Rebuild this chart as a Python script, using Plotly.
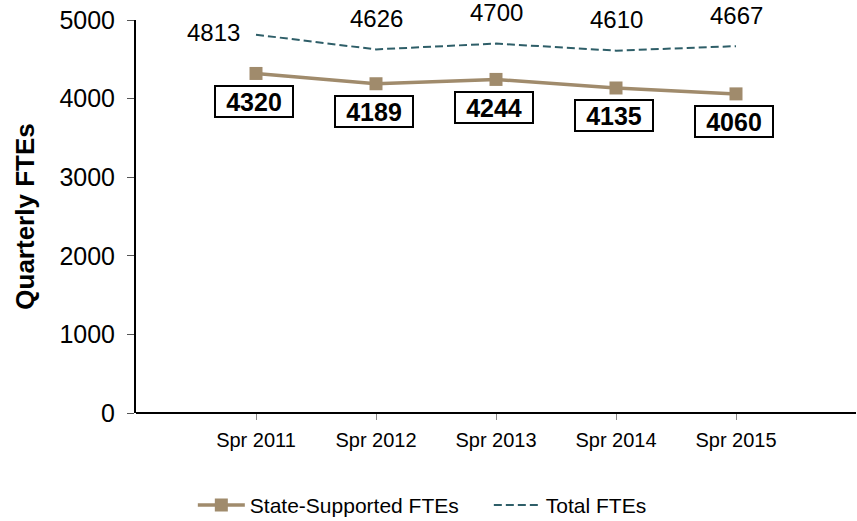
import plotly.graph_objects as go

# datos
terms = ["Spr 2011", "Spr 2012", "Spr 2013", "Spr 2014", "Spr 2015"]
state_ftes = [4320, 4189, 4244, 4135, 4060]
total_ftes = [4813, 4626, 4700, 4610, 4667]

fig = go.Figure()

fig.add_trace(go.Scatter(
    x=terms, y=state_ftes,
    mode="lines+markers",
    line=dict(color="#A08B6C", width=3.5),
    marker=dict(symbol="square", size=13, color="#A08B6C"),
    name="State-Supported FTEs",
))

fig.add_trace(go.Scatter(
    x=terms, y=total_ftes,
    mode="lines",
    line=dict(color="#2E5E68", width=2, dash="8px,4px"),
    name="Total FTEs",
))

# etiquetas del total
for i, (t, v) in enumerate(zip(terms, total_ftes)):
    if i == 0:
        fig.add_annotation(x=t, y=v, text=str(v), showarrow=False,
                           xanchor="right", xshift=-14, yshift=2,
                           font=dict(size=24, color="black"))
    else:
        fig.add_annotation(x=t, y=v, text=str(v), showarrow=False,
                           yshift=31, font=dict(size=24, color="black"))

# etiquetas con recuadro
for t, v in zip(terms, state_ftes):
    fig.add_annotation(
        x=t, y=v, text="<b>%d</b>" % v,
        showarrow=False, yshift=-28, xshift=-2,
        width=74, height=27,
        font=dict(size=25, color="black"),
        bordercolor="black", borderwidth=2, borderpad=1,
        bgcolor="white",
    )

fig.update_layout(
    width=857, height=521,
    margin=dict(l=136, r=1, t=20, b=108, autoexpand=False),
    plot_bgcolor="white", paper_bgcolor="white",
    font=dict(family="Liberation Sans, Arial", color="black"),
    legend=dict(orientation="h", xref="container", yref="container",
                x=0.225, y=0.03, xanchor="left", yanchor="middle",
                font=dict(size=21), entrywidth=234, itemwidth=47),
)

fig.update_xaxes(range=[-1, 5], showgrid=False, automargin=False,
                 showline=False, ticks="outside", ticklen=6,
                 tickcolor="#888", tickfont=dict(size=20),
                 ticklabelstandoff=3)
fig.update_yaxes(range=[0, 5000], dtick=1000, showgrid=False, automargin=False,
                 zeroline=True, zerolinecolor="black", zerolinewidth=2,
                 showline=True, linecolor="black", linewidth=2,
                 ticks="outside", ticklen=7, tickcolor="#555",
                 tickfont=dict(size=25), ticklabelstandoff=7,
                 title=dict(text="<b>Quarterly FTEs</b>", font=dict(size=26),
                            standoff=17))

fig.write_html("out.html", config={"displayModeBar": False},
               post_script="document.body.style.margin='0';")
